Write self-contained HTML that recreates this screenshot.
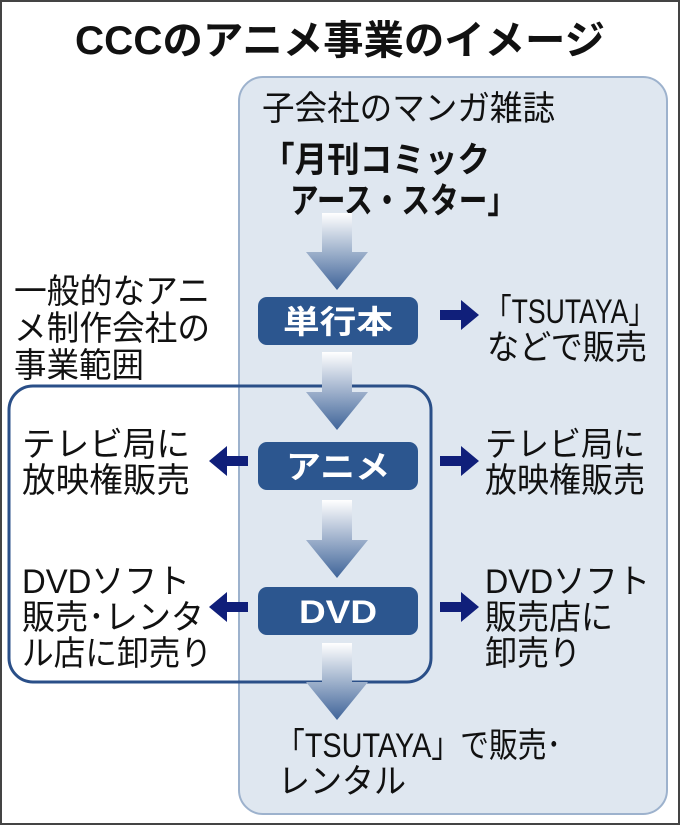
<!DOCTYPE html>
<html><head><meta charset="utf-8"><style>
html,body{margin:0;padding:0;background:#fff;}
svg{display:block;}
text{font-family:"Liberation Sans","Noto Sans CJK JP",sans-serif;fill:#111;}
.t{font-size:34px;}
.w{fill:#fff;font-weight:bold;font-size:32px;}
</style></head><body>
<svg width="680" height="825" viewBox="0 0 680 825" xmlns="http://www.w3.org/2000/svg">
<defs>
<linearGradient id="g" x1="0" y1="0" x2="0" y2="1">
<stop offset="0" stop-color="#ffffff"/><stop offset="1" stop-color="#3f6499"/>
</linearGradient>
</defs>
<rect x="1" y="1" width="678" height="823" fill="#fff" stroke="#444" stroke-width="2"/>
<text x="340" y="54" text-anchor="middle" font-size="40" font-weight="bold" textLength="530" lengthAdjust="spacingAndGlyphs">CCCのアニメ事業のイメージ</text>
<rect x="239" y="77" width="428" height="737" rx="24" fill="#dfe7f0" stroke="#9db2cd" stroke-width="2"/>
<rect x="9" y="386" width="422" height="296" rx="24" fill="none" stroke="#2a4f88" stroke-width="3"/>

<text class="t" x="262" y="120" textLength="293" lengthAdjust="spacingAndGlyphs">子会社のマンガ雑誌</text>
<text x="262" y="172" font-size="35" font-weight="bold" textLength="228" lengthAdjust="spacingAndGlyphs">「月刊コミック</text>
<text x="290" y="213" font-size="35" font-weight="bold" textLength="226" lengthAdjust="spacingAndGlyphs">アース・スター」</text>

<g fill="url(#g)">
<path d="M322 213 H352 V252 H368 L337 290 L306 252 H322 Z"/>
<path d="M322 352 H352 V392 H368 L337 430 L306 392 H322 Z"/>
<path d="M322 500 H352 V540 H368 L337 578 L306 540 H322 Z"/>
<path d="M322 643 H352 V682 H368 L337 720 L306 682 H322 Z"/>
</g>

<rect x="258" y="297" width="160" height="48" rx="9" fill="#2c568f"/>
<rect x="258" y="442" width="160" height="48" rx="9" fill="#2c568f"/>
<rect x="258" y="587" width="160" height="48" rx="9" fill="#2c568f"/>
<text class="w" x="338" y="333" text-anchor="middle" textLength="110" lengthAdjust="spacingAndGlyphs">単行本</text>
<text class="w" x="338" y="478" text-anchor="middle" textLength="104" lengthAdjust="spacingAndGlyphs">アニメ</text>
<text class="w" x="338" y="623" text-anchor="middle" textLength="78" lengthAdjust="spacingAndGlyphs">DVD</text>

<g fill="#101f7a">
<path d="M440 310 H461 V300 L479 315 L461 330 V320 H440 Z"/>
<path d="M440 456 H461 V446 L479 461 L461 476 V466 H440 Z"/>
<path d="M440 602 H461 V592 L479 607 L461 622 V612 H440 Z"/>
<path d="M248 456 H227 V446 L209 461 L227 476 V466 H248 Z"/>
<path d="M248 602 H227 V592 L209 607 L227 622 V612 H248 Z"/>
</g>

<text class="t" x="14" y="303" textLength="196" lengthAdjust="spacingAndGlyphs">一般的なアニ</text>
<text class="t" x="14" y="340" textLength="196" lengthAdjust="spacingAndGlyphs">メ制作会社の</text>
<text class="t" x="14" y="377" textLength="130" lengthAdjust="spacingAndGlyphs">事業範囲</text>

<text class="t" x="485" y="323" textLength="170" lengthAdjust="spacingAndGlyphs">「TSUTAYA」</text>
<text class="t" x="487" y="359" textLength="160" lengthAdjust="spacingAndGlyphs">などで販売</text>

<text class="t" x="22" y="456" textLength="168" lengthAdjust="spacingAndGlyphs">テレビ局に</text>
<text class="t" x="22" y="492" textLength="168" lengthAdjust="spacingAndGlyphs">放映権販売</text>
<text class="t" x="485" y="456" textLength="160" lengthAdjust="spacingAndGlyphs">テレビ局に</text>
<text class="t" x="485" y="492" textLength="160" lengthAdjust="spacingAndGlyphs">放映権販売</text>

<text class="t" x="22" y="593" textLength="168" lengthAdjust="spacingAndGlyphs">DVDソフト</text>
<text class="t" x="22" y="629" textLength="182" lengthAdjust="spacingAndGlyphs">販売･レンタ</text>
<text class="t" x="22" y="665" textLength="190" lengthAdjust="spacingAndGlyphs">ル店に卸売り</text>
<text class="t" x="485" y="593" textLength="165" lengthAdjust="spacingAndGlyphs">DVDソフト</text>
<text class="t" x="485" y="629" textLength="128" lengthAdjust="spacingAndGlyphs">販売店に</text>
<text class="t" x="485" y="665" textLength="96" lengthAdjust="spacingAndGlyphs">卸売り</text>

<text class="t" x="276" y="757" textLength="285" lengthAdjust="spacingAndGlyphs">「TSUTAYA」で販売･</text>
<text class="t" x="278" y="793" textLength="128" lengthAdjust="spacingAndGlyphs">レンタル</text>
</svg>
</body></html>
